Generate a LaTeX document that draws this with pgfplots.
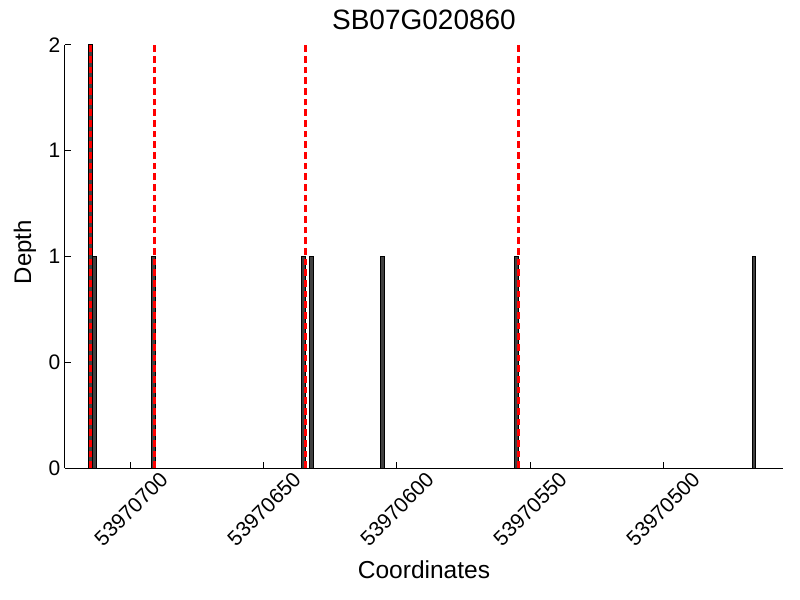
\documentclass[border=0pt]{standalone}
\usepackage{fontspec}
\setmainfont{Liberation Sans}
\usepackage{pgfplots}
\pgfplotsset{compat=1.18}
\definecolor{barfill}{RGB}{64,64,64}
\begin{document}
\begin{tikzpicture}
\useasboundingbox (-48.75pt,-99pt) rectangle (551.25pt,351pt);
\begin{axis}[
  at={(0,0)}, anchor=south west,
  scale only axis,
  width=538.5pt, height=317.25pt,
  x dir=reverse,
  xmin=454.9, xmax=724.8,
  ymin=0, ymax=2,
  axis x line*=bottom, axis y line*=left,
  axis line style={line width=0.75pt, black},
  tick style={line width=0.75pt, black},
  major tick length=4.5pt,
  tick align=inside,
  xtick={500,550,600,650,700},
  xticklabels={53970500,53970550,53970600,53970650,53970700},
  ytick={0,0.5,1,1.5,2},
  yticklabels={0,0,1,1,2},
  xticklabel style={font=\fontsize{15.75pt}{18pt}\selectfont, anchor=center, yshift=-30.75pt, rotate=45},
  yticklabel style={font=\fontsize{15.75pt}{18pt}\selectfont},
  title={SB07G020860},
  title style={font=\fontsize{21pt}{24pt}\selectfont, at={(axis description cs:0.5,1)}, anchor=base, yshift=5.5pt},
  xlabel={Coordinates},
  xlabel style={font=\fontsize{18.4pt}{22pt}\selectfont, at={(axis description cs:0.5,0)}, anchor=base, yshift=-82.5pt},
  ylabel={Depth},
  ylabel style={font=\fontsize{18pt}{22pt}\selectfont, at={(axis description cs:-0.0557,0.51)}, anchor=center},
]
% depth bars (coordinate minus 53970000)
\addplot[ybar, bar width=1.5, fill=barfill, draw=black, line width=0.75pt] coordinates {
  (715.2,2) (713.6,1) (691.7,1) (635.0,1) (632.3,1) (605.3,1) (554.9,1) (465.8,1)
};
% red dashed marker lines
\addplot[red, line width=2.25pt, dash pattern=on 5pt off 3pt] coordinates {(715.3,0) (715.3,2)};
\addplot[red, line width=2.25pt, dash pattern=on 5pt off 3pt] coordinates {(691.2,0) (691.2,2)};
\addplot[red, line width=2.25pt, dash pattern=on 5pt off 3pt] coordinates {(634.5,0) (634.5,2)};
\addplot[red, line width=2.25pt, dash pattern=on 5pt off 3pt] coordinates {(554.2,0) (554.2,2)};
\end{axis}
\end{tikzpicture}
\end{document}
